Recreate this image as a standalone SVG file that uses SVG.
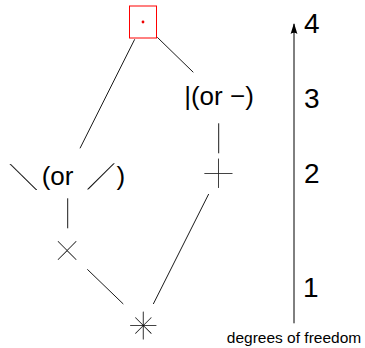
<svg xmlns="http://www.w3.org/2000/svg" width="365" height="348" viewBox="0 0 365 348">
<style>
.t{font-family:"Liberation Sans",Arial,sans-serif;fill:#000}
.lab{font-size:26px}
.dig{font-size:28px}
.sym{font-family:Lato,"DejaVu Sans",sans-serif;font-weight:200;fill:#000;stroke:#000;stroke-width:0.2}
.diag{font-family:Lato,"DejaVu Sans",sans-serif;font-weight:200;font-size:34px;fill:#000;stroke:#000;stroke-width:0.12}
.conn line{stroke:#000;stroke-width:0.9}
.small{font-size:15.5px}
</style>
<defs>
<marker id="arr" markerUnits="userSpaceOnUse" markerWidth="12" markerHeight="12" viewBox="0 -6 12 12" refX="10" refY="0" orient="auto">
<path d="M11,0 L0,-3.4 Q2.4,0 0,3.4 Z" fill="#000"/>
</marker>
<filter id="gs" x="-20%" y="-20%" width="140%" height="140%"><feOffset dx="0" dy="0"/></filter>
</defs>
<rect width="365" height="348" fill="#fff"/>
<g id="conn" class="conn">
<line x1="134.7" y1="39.3" x2="80" y2="148.3"/>
<line x1="157.3" y1="37.3" x2="193.3" y2="72.3"/>
<line x1="218.7" y1="123.3" x2="218.7" y2="153.3"/>
<line x1="67.7" y1="198.3" x2="67.7" y2="228.3"/>
<line x1="208.7" y1="194" x2="153.3" y2="304"/>
<line x1="87.3" y1="269.3" x2="123.3" y2="304"/>
</g>
<g id="top">
<rect x="129.5" y="6" width="27" height="32" fill="none" stroke="#f00" stroke-width="1"/>
<circle cx="143" cy="22" r="1.4" fill="#e00"/>
</g>
<g id="rot">
<text class="t lab" x="219" y="105" text-anchor="middle">|(or −)</text>
</g>
<g id="refl">
<g filter="url(#gs)">
<text class="diag" transform="translate(6.3,188.3) scale(2.4,1)">\</text>
<text class="diag" transform="translate(83.8,188.3) scale(2.4,1)">/</text>
</g>
<text class="t lab" x="41.7" y="185">(or</text>
<text class="t lab" x="116.5" y="185">)</text>
</g>
<g id="plus" filter="url(#gs)">
<text class="sym" font-size="60" x="218.3" y="194.3" text-anchor="middle">+</text>
</g>
<g id="times" filter="url(#gs)">
<text class="sym" font-size="46" x="67.2" y="266.1" text-anchor="middle">×</text>
</g>
<g id="star" filter="url(#gs)">
<text class="sym" font-size="56" x="143.3" y="344" text-anchor="middle">+</text>
<text class="sym" font-size="40" x="143.3" y="339.4" text-anchor="middle">×</text>
</g>
<g id="axis">
<line x1="294" y1="323.3" x2="294" y2="24" stroke="#000" stroke-width="1" marker-end="url(#arr)"/>
<text class="t dig" x="304" y="33.3">4</text>
<text class="t dig" x="304" y="108.3">3</text>
<text class="t dig" x="304" y="183.3">2</text>
<text class="t dig" x="303" y="296.7">1</text>
<text class="t small" x="294" y="343" text-anchor="middle">degrees of freedom</text>
</g>
</svg>
